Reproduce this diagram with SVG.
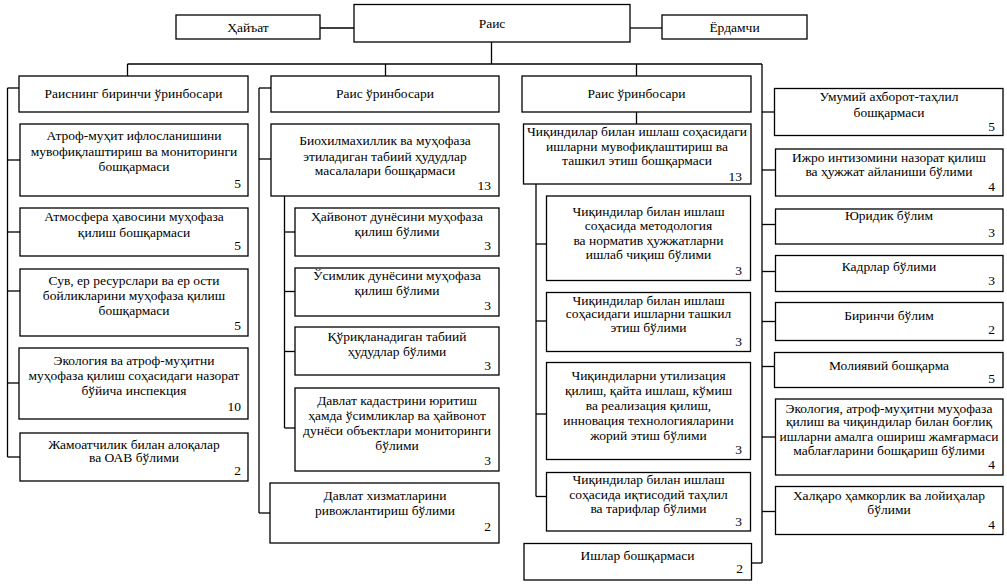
<svg xmlns="http://www.w3.org/2000/svg" width="1007" height="586" viewBox="0 0 1007 586">
<style>
rect{fill:#fff;stroke:#000;stroke-width:1.3}
text{font-size:13.5px;fill:#000;text-anchor:middle}
text.n{text-anchor:end}
#connectors line{stroke:#000;stroke-width:1.3;fill:none}
</style>
<rect x="0" y="0" width="1007" height="586" style="fill:#fff;stroke:none"/>
<g id="connectors">
<line x1="320" y1="28" x2="354" y2="28"/>
<line x1="630" y1="28" x2="662" y2="28"/>
<line x1="491.5" y1="42" x2="491.5" y2="64"/>
<line x1="127.5" y1="64" x2="762" y2="64"/>
<line x1="127.5" y1="64" x2="127.5" y2="76"/>
<line x1="385.5" y1="64" x2="385.5" y2="76"/>
<line x1="636.5" y1="64" x2="636.5" y2="76"/>
<line x1="762" y1="64" x2="762" y2="563"/>
<line x1="751.5" y1="563" x2="762" y2="563"/>
<line x1="7.5" y1="88" x2="7.5" y2="457"/>
<line x1="7.5" y1="88" x2="19" y2="88"/>
<line x1="7.5" y1="160" x2="20" y2="160"/>
<line x1="7.5" y1="232" x2="20" y2="232"/>
<line x1="7.5" y1="291" x2="20" y2="291"/>
<line x1="7.5" y1="383" x2="20" y2="383"/>
<line x1="7.5" y1="457" x2="20" y2="457"/>
<line x1="259" y1="88" x2="259" y2="513"/>
<line x1="259" y1="88" x2="271" y2="88"/>
<line x1="259" y1="159" x2="271" y2="159"/>
<line x1="259" y1="513" x2="270" y2="513"/>
<line x1="284.5" y1="196" x2="284.5" y2="428"/>
<line x1="284.5" y1="232" x2="295" y2="232"/>
<line x1="284.5" y1="291.5" x2="295" y2="291.5"/>
<line x1="284.5" y1="351.5" x2="295" y2="351.5"/>
<line x1="284.5" y1="428" x2="295" y2="428"/>
<line x1="636.5" y1="112" x2="636.5" y2="124"/>
<line x1="536" y1="184" x2="536" y2="496.5"/>
<line x1="536" y1="244" x2="546.5" y2="244"/>
<line x1="536" y1="321" x2="546.5" y2="321"/>
<line x1="536" y1="414" x2="546.5" y2="414"/>
<line x1="536" y1="496.5" x2="546.5" y2="496.5"/>
<line x1="762" y1="112" x2="774.5" y2="112"/>
<line x1="762" y1="170" x2="775.5" y2="170"/>
<line x1="762" y1="224.5" x2="775.5" y2="224.5"/>
<line x1="762" y1="271.5" x2="775.5" y2="271.5"/>
<line x1="762" y1="321.5" x2="775.5" y2="321.5"/>
<line x1="762" y1="366.5" x2="774.5" y2="366.5"/>
<line x1="762" y1="437" x2="775.5" y2="437"/>
<line x1="762" y1="511.5" x2="775.5" y2="511.5"/>
</g>
<g font-family="'Liberation Serif', 'DejaVu Serif', serif">
<g id="hayat"><rect x="176" y="15" width="144" height="24"/><text x="248" y="31.5">Ҳайъат</text></g>
<g id="rais"><rect x="354" y="4.5" width="276" height="37.5"/><text x="492" y="27.5">Раис</text></g>
<g id="yordamchi"><rect x="662" y="15" width="145" height="24"/><text x="734.5" y="31.5">Ёрдамчи</text></g>

<g id="c1h"><rect x="19" y="76" width="229" height="36"/><text x="133.5" y="98">Раиснинг биринчи ўринбосари</text></g>
<g id="c1a"><rect x="20" y="124" width="228" height="72"/>
<text x="134" y="140">Атроф-муҳит ифлосланишини</text><text x="134" y="155.5">мувофиқлаштириш ва мониторинги</text><text x="134" y="171">бошқармаси</text><text class="n" x="241" y="187.5">5</text></g>
<g id="c1b"><rect x="20" y="208" width="228" height="48"/>
<text x="134" y="221">Атмосфера ҳавосини муҳофаза</text><text x="134" y="236.5">қилиш бошқармаси</text><text class="n" x="241" y="250">5</text></g>
<g id="c1c"><rect x="20" y="269" width="228" height="67"/>
<text x="134" y="284.5">Сув, ер ресурслари ва ер ости</text><text x="134" y="300">бойликларини муҳофаза қилиш</text><text x="134" y="315">бошқармаси</text><text class="n" x="241" y="329.5">5</text></g>
<g id="c1d"><rect x="19" y="348" width="229" height="71"/>
<text x="134" y="364.5">Экология ва атроф-муҳитни</text><text x="134" y="379.5">муҳофаза қилиш соҳасидаги назорат</text><text x="134" y="394.5">бўйича инспекция</text><text class="n" x="241" y="410.5">10</text></g>
<g id="c1e"><rect x="20" y="433" width="228" height="48"/>
<text x="134" y="448.5">Жамоатчилик билан алоқалар</text><text x="134" y="461.5">ва ОАВ бўлими</text><text class="n" x="241" y="475">2</text></g>

<g id="c2h"><rect x="271" y="76" width="228" height="36"/><text x="385" y="98">Раис ўринбосари</text></g>
<g id="c2a"><rect x="271" y="124" width="228" height="72"/>
<text x="385" y="145">Биохилмахиллик ва муҳофаза</text><text x="385" y="160.5">этиладиган табиий ҳудудлар</text><text x="385" y="175">масалалари бошқармаси</text><text class="n" x="491" y="190">13</text></g>
<g id="c2b"><rect x="295" y="208" width="204" height="48"/>
<text x="397" y="221">Ҳайвонот дунёсини муҳофаза</text><text x="397" y="236">қилиш бўлими</text><text class="n" x="491" y="250">3</text></g>
<g id="c2c"><rect x="295" y="268" width="204" height="48"/>
<text x="397" y="280">Ўсимлик дунёсини муҳофаза</text><text x="397" y="295">қилиш бўлими</text><text class="n" x="491" y="310">3</text></g>
<g id="c2d"><rect x="295" y="327" width="204" height="48"/>
<text x="397" y="340.5">Қўриқланадиган табиий</text><text x="397" y="356">ҳудудлар бўлими</text><text class="n" x="491" y="369.5">3</text></g>
<g id="c2e"><rect x="295" y="388" width="204" height="83"/>
<text x="397" y="404.5">Давлат кадастрини юритиш</text><text x="397" y="419.5">ҳамда ўсимликлар ва ҳайвонот</text><text x="397" y="434.5">дунёси объектлари мониторинги</text><text x="397" y="449.5">бўлими</text><text class="n" x="491" y="464.5">3</text></g>
<g id="c2f"><rect x="270" y="483" width="229" height="60"/>
<text x="385" y="499.5">Давлат хизматларини</text><text x="385" y="514.5">ривожлантириш бўлими</text><text class="n" x="491" y="531">2</text></g>

<g id="c3h"><rect x="522" y="76" width="229" height="36"/><text x="636.5" y="98">Раис ўринбосари</text></g>
<g id="c3a"><rect x="523.5" y="124" width="227.5" height="60"/>
<text x="637" y="136">Чиқиндилар билан ишлаш соҳасидаги</text><text x="637" y="150.5">ишларни мувофиқлаштириш ва</text><text x="637" y="165">ташкил этиш бошқармаси</text><text class="n" x="742" y="181">13</text></g>
<g id="c3b"><rect x="546.5" y="196" width="204" height="84.5"/>
<text x="648.5" y="215.5">Чиқиндилар билан ишлаш</text><text x="648.5" y="230">соҳасида методология</text><text x="648.5" y="244.5">ва норматив ҳужжатларни</text><text x="648.5" y="259">ишлаб чиқиш бўлими</text><text class="n" x="742" y="274.5">3</text></g>
<g id="c3c"><rect x="546.5" y="292.5" width="204" height="59"/>
<text x="648.5" y="304.5">Чиқиндилар билан ишлаш</text><text x="648.5" y="318">соҳасидаги ишларни ташкил</text><text x="648.5" y="331.5">этиш бўлими</text><text class="n" x="742" y="346">3</text></g>
<g id="c3d"><rect x="546.5" y="362.5" width="204" height="97"/>
<text x="648.5" y="379.5">Чиқиндиларни утилизация</text><text x="648.5" y="394.5">қилиш, қайта ишлаш, кўмиш</text><text x="648.5" y="409.5">ва реализация қилиш,</text><text x="648.5" y="424.5">инновация технологияларини</text><text x="648.5" y="439.5">жорий этиш бўлими</text><text class="n" x="742" y="453.5">3</text></g>
<g id="c3e"><rect x="546.5" y="472.5" width="204" height="58.5"/>
<text x="648.5" y="483.5">Чиқиндилар билан ишлаш</text><text x="648.5" y="498.5">соҳасида иқтисодий таҳлил</text><text x="648.5" y="513">ва тарифлар бўлими</text><text class="n" x="742" y="526">3</text></g>
<g id="c3f"><rect x="524" y="543.5" width="227.5" height="36.5"/>
<text x="637.5" y="559.5">Ишлар бошқармаси</text><text class="n" x="743" y="572.5">2</text></g>

<g id="c4a"><rect x="774.5" y="88.5" width="228.5" height="47"/>
<text x="889" y="101">Умумий ахборот-таҳлил</text><text x="889" y="117">бошқармаси</text><text class="n" x="995" y="131">5</text></g>
<g id="c4b"><rect x="775.5" y="149" width="227.5" height="47"/>
<text x="889" y="161.5">Ижро интизомини назорат қилиш</text><text x="889" y="176">ва ҳужжат айланиши бўлими</text><text class="n" x="995" y="191">4</text></g>
<g id="c4c"><rect x="775.5" y="209" width="227.5" height="35"/>
<text x="889" y="220">Юридик бўлим</text><text class="n" x="995" y="236.5">3</text></g>
<g id="c4d"><rect x="775.5" y="255.5" width="227.5" height="36"/>
<text x="889" y="271">Кадрлар бўлими</text><text class="n" x="995" y="284.5">3</text></g>
<g id="c4e"><rect x="775.5" y="302.5" width="227.5" height="38"/>
<text x="889" y="319.5">Биринчи бўлим</text><text class="n" x="995" y="333.5">2</text></g>
<g id="c4f"><rect x="774.5" y="352.5" width="228.5" height="35"/>
<text x="889" y="369.5">Молиявий бошқарма</text><text class="n" x="995" y="382.5">5</text></g>
<g id="c4g"><rect x="775.5" y="399" width="227.5" height="76"/>
<text x="889" y="412.5">Экология, атроф-муҳитни муҳофаза</text><text x="889" y="426">қилиш ва чиқиндилар билан боғлиқ</text><text x="889" y="440.5">ишларни амалга ошириш жамғармаси</text><text x="889" y="455">маблағларини бошқариш бўлими</text><text class="n" x="995" y="468.5">4</text></g>
<g id="c4h"><rect x="775.5" y="486.5" width="227.5" height="48"/>
<text x="889" y="499.5">Халқаро ҳамкорлик ва лойиҳалар</text><text x="889" y="513.5">бўлими</text><text class="n" x="995" y="528.5">4</text></g>
</g>
</svg>
